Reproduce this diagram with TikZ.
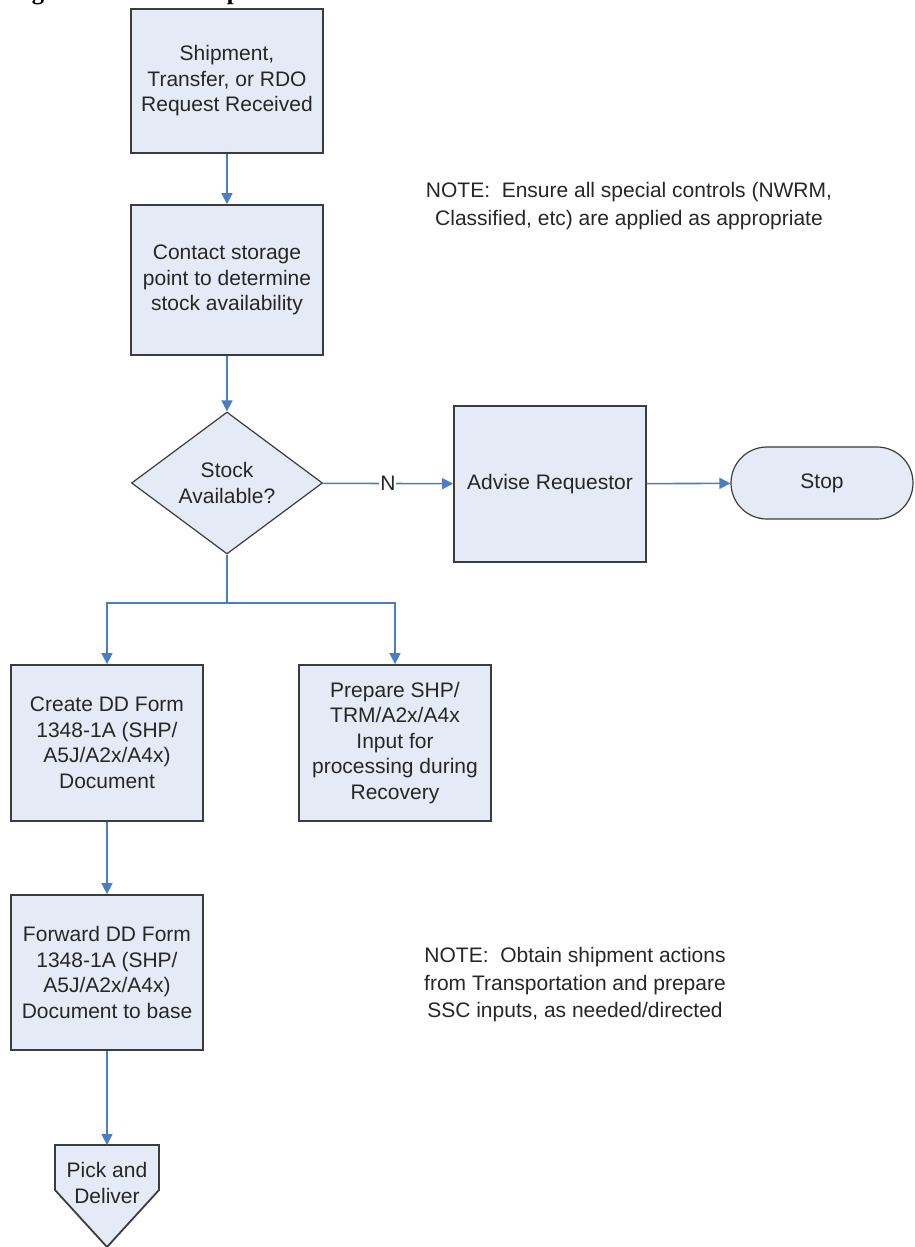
\documentclass[tikz,border=0pt]{standalone}
\usepackage{fontspec}
\setmainfont{Liberation Sans}
\newfontfamily\titlefont{Liberation Serif}
\usetikzlibrary{arrows.meta,shapes.geometric}
\definecolor{boxfill}{RGB}{229,235,246}
\definecolor{boxline}{RGB}{60,60,60}
\definecolor{flow}{RGB}{74,126,196}
\definecolor{txt}{RGB}{38,38,38}

\begin{document}
\begin{tikzpicture}[x=1pt,y=-1pt,
  every node/.style={font=\fontsize{21}{25.5}\selectfont, text=txt},
  procbox/.style={draw=boxline, fill=boxfill, line width=1.8pt,
    minimum width=192pt, align=center, inner sep=0pt},
  decision/.style={diamond, draw=boxline, fill=boxfill, line width=1.2pt,
    aspect=1.345, minimum width=191pt, minimum height=142pt,
    align=center, inner sep=0pt},
  terminal/.style={draw=boxline, fill=boxfill, line width=1.2pt,
    rounded corners=36pt, minimum width=182pt, minimum height=72pt,
    inner sep=0pt},
  note/.style={align=center, font=\fontsize{21}{27.5}\selectfont},
  flowline/.style={draw=flow, line width=1.6pt,
    -{Triangle[length=11pt,width=11pt]}},
]
\useasboundingbox (0,0) rectangle (914,1247);

% page heading, cut off by the top edge
\begin{scope}
  \clip (0,0) rectangle (914,1247);
  \node[anchor=base west, inner sep=0pt, text=black,
    font=\titlefont\bfseries\fontsize{24.5}{28}\selectfont]
    (title) at (10,-0.5) {Figure 14.\ \ Stock Shipment};
\end{scope}

% process steps
\node[procbox, minimum height=144pt] (req) at (227,81)
  {Shipment,\\Transfer, or RDO\\Request Received};
\node[procbox, minimum height=150pt] (contact) at (227,280)
  {Contact storage\\point to determine\\stock availability};
\node[decision] (avail) at (227,483) {Stock\\Available?};
\node[procbox, minimum height=156pt] (advise) at (550,484)
  {Advise Requestor};
\node[terminal] (stop) at (822,483) {Stop};
\node[procbox, minimum height=156pt] (create) at (107,743)
  {Create DD Form\\1348-1A (SHP/\\A5J/A2x/A4x)\\Document};
\node[procbox, minimum height=156pt] (prepare) at (395,743)
  {Prepare SHP/\\TRM/A2x/A4x\\Input for\\processing during\\Recovery};
\node[procbox, minimum height=155pt] (forward) at (107,972.5)
  {Forward DD Form\\1348-1A (SHP/\\A5J/A2x/A4x)\\Document to base};

% off-page connector
\draw[draw=boxline, fill=boxfill, line width=1.8pt, line join=miter]
  (55,1145) -- (159,1145) -- (159,1190) -- (107,1247) -- (55,1190) -- cycle;
\coordinate (pick) at (107,1145);
\node[align=center] (picktext) at (107,1183) {Pick and\\Deliver};

% notes
\node[note] (note1) at (629,206)
  {NOTE:\ \ Ensure all special controls (NWRM,\\Classified, etc) are applied as appropriate};
\node[note] (note2) at (575,985)
  {NOTE:\ \ Obtain shipment actions\\from Transportation and prepare\\SSC inputs, as needed/directed};

% connectors
\draw[flowline] (req) -- (contact);
\draw[flowline] (contact) -- (avail);
\draw[flowline] (avail) -- node[fill=white, inner sep=1pt] (nlabel) {N} (advise);
\draw[flowline] (advise) -- (stop);
\coordinate (split) at (227,603);
\draw[flowline] (avail.south) -- (split) -| (create.north);
\draw[flowline] (split) -| (prepare.north);
\draw[flowline] (create) -- (forward);
\draw[flowline] (forward) -- (pick);
\end{tikzpicture}
\end{document}
